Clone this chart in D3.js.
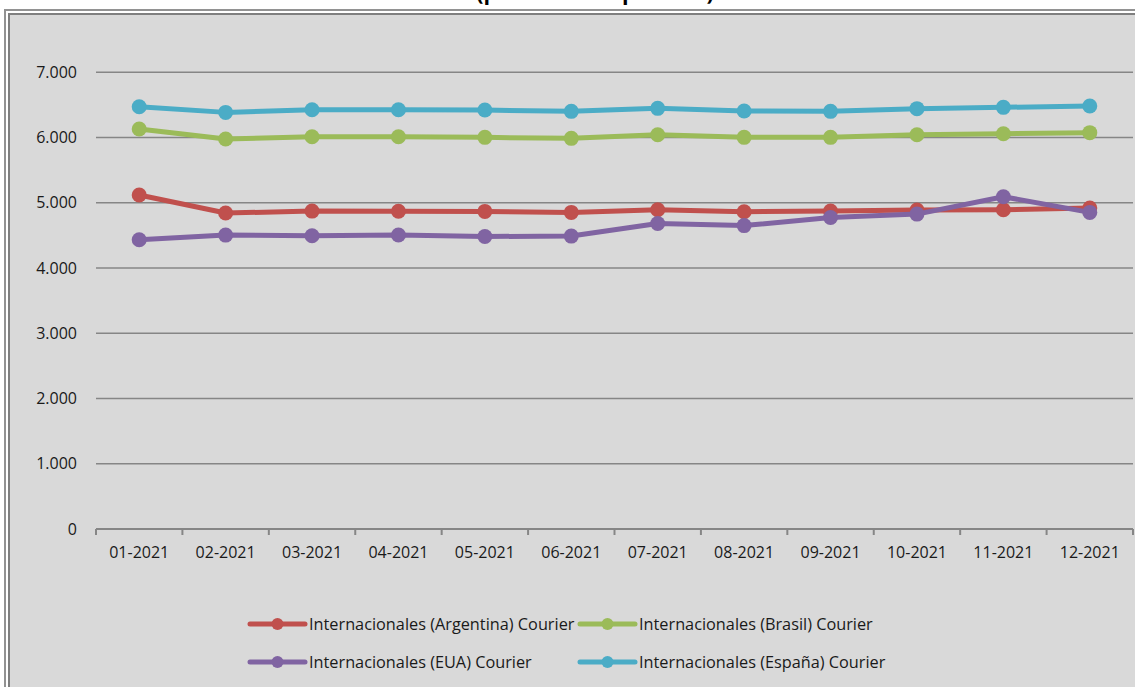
<!DOCTYPE html>
<html>
<head>
<meta charset="utf-8">
<script src="https://cdn.jsdelivr.net/npm/d3@7"></script>
<style>
  html, body { margin: 0; padding: 0; background: #ffffff; }
  svg { display: block; }
  text { font-family: "Open Sans", "DejaVu Sans", sans-serif; }
</style>
</head>
<body>
<svg id="chart" width="1135" height="687"></svg>
<script>
// ---------- data ----------
const titleText = "(pesos con impuestos)";
const categories = ["01-2021","02-2021","03-2021","04-2021","05-2021","06-2021",
                    "07-2021","08-2021","09-2021","10-2021","11-2021","12-2021"];
const argentina = [5118, 4842, 4872, 4870, 4867, 4852, 4893, 4862, 4872, 4888, 4893, 4919];
const brasil    = [6130, 5977, 6012, 6012, 6002, 5987, 6043, 6002, 6002, 6043, 6058, 6074];
const eua       = [4432, 4504, 4494, 4506, 4483, 4489, 4683, 4650, 4775, 4826, 5092, 4852];
const espana    = [6472, 6385, 6426, 6426, 6421, 6401, 6447, 6406, 6401, 6442, 6462, 6483];
const seriesNames = ["Internacionales (Argentina) Courier", "Internacionales (Brasil) Courier",
                     "Internacionales (EUA) Courier", "Internacionales (España) Courier"];
const seriesColors = ["#c0504d", "#9bbb59", "#8064a2", "#4bacc6"];
const yTicks = [0, 1000, 2000, 3000, 4000, 5000, 6000, 7000];

const series = [argentina, brasil, eua, espana].map((vals, i) => ({
  name: seriesNames[i], color: seriesColors[i], values: vals
}));

// ---------- layout ----------
const svg = d3.select("#chart");
const plot = { left: 96, right: 1133, bottom: 529, pxPer1000: 65.25 };

// frame (extends past right/bottom edges)
svg.append("rect").attr("x", 5).attr("y", 10).attr("width", 1300).attr("height", 900)
  .attr("fill", "#ffffff").attr("stroke", "#929292").attr("stroke-width", 2);
svg.append("rect").attr("x", 9).attr("y", 14).attr("width", 1300).attr("height", 900)
  .attr("fill", "#d9d9d9").attr("stroke", "#7f7f7f").attr("stroke-width", 2);

// title (mostly cut off at top, as in the reference)
svg.append("text").attr("x", 595).attr("y", -0.5).attr("text-anchor", "middle")
  .attr("font-weight", "bold").attr("font-size", 21.5).attr("fill", "#000")
  .text(titleText);

// scales
const x = d3.scaleBand().domain(categories).range([plot.left, plot.right]);
const y = d3.scaleLinear().domain([0, 8000])
  .range([plot.bottom, plot.bottom - 8 * plot.pxPer1000]);

const loc = d3.formatLocale({ decimal: ",", thousands: ".", grouping: [3], currency: ["$", ""] });
const fmt = loc.format(",d");

// gridlines
svg.append("g")
  .selectAll("line")
  .data(yTicks.filter(d => d > 0))
  .join("line")
  .attr("x1", plot.left).attr("x2", plot.right)
  .attr("y1", d => y(d)).attr("y2", d => y(d))
  .attr("stroke", "#868686").attr("stroke-width", 1.5);

// y axis labels
const yAxis = svg.append("g").attr("transform", `translate(${plot.left},0)`)
  .call(d3.axisLeft(y).tickValues(yTicks).tickFormat(fmt).tickSize(0).tickPadding(19));
yAxis.select(".domain").remove();
yAxis.selectAll("text").attr("font-size", 16).attr("fill", "#1a1a1a")
  .attr("font-family", "'Open Sans', sans-serif");

// x axis
const xAxis = svg.append("g").attr("transform", `translate(0,${plot.bottom})`)
  .call(d3.axisBottom(x).tickSize(0).tickPadding(18));
xAxis.select(".domain").attr("stroke", "#868686").attr("stroke-width", 2)
  .attr("d", `M${plot.left},0H${plot.right}`);
xAxis.selectAll("text").attr("font-size", 16).attr("fill", "#1a1a1a")
  .attr("font-family", "'Open Sans', sans-serif");
// tick marks at category boundaries
const bounds = categories.map(c => x(c)).concat([x(categories[categories.length - 1]) + x.bandwidth()]);
xAxis.selectAll("line.bound").data(bounds).join("line").attr("class", "bound")
  .attr("x1", d => d).attr("x2", d => d).attr("y1", 0).attr("y2", 6)
  .attr("stroke", "#868686").attr("stroke-width", 2);

// lines + markers
const line = d3.line()
  .x((d, i) => x(categories[i]) + x.bandwidth() / 2)
  .y(d => y(d));

series.forEach(s => {
  const g = svg.append("g");
  g.append("path").datum(s.values).attr("d", line)
    .attr("fill", "none").attr("stroke", s.color).attr("stroke-width", 5)
    .attr("stroke-linejoin", "round").attr("stroke-linecap", "round");
  g.selectAll("circle").data(s.values).join("circle")
    .attr("cx", (d, i) => x(categories[i]) + x.bandwidth() / 2)
    .attr("cy", d => y(d)).attr("r", 7.5).attr("fill", s.color);
});

// legend
const legendPos = [[250, 624], [580, 624], [250, 662], [580, 662]];
series.forEach((s, i) => {
  const [lx, ly] = legendPos[i];
  const g = svg.append("g").attr("transform", `translate(${lx},${ly})`);
  g.append("line").attr("x1", 0).attr("x2", 55).attr("y1", 0).attr("y2", 0)
    .attr("stroke", s.color).attr("stroke-width", 5).attr("stroke-linecap", "round");
  g.append("circle").attr("cx", 27.5).attr("cy", 0).attr("r", 6).attr("fill", s.color);
  g.append("text").attr("x", 59).attr("y", 0).attr("dy", "0.35em")
    .attr("font-size", 16.3).attr("fill", "#1a1a1a").text(s.name);
});
</script>
</body>
</html>
